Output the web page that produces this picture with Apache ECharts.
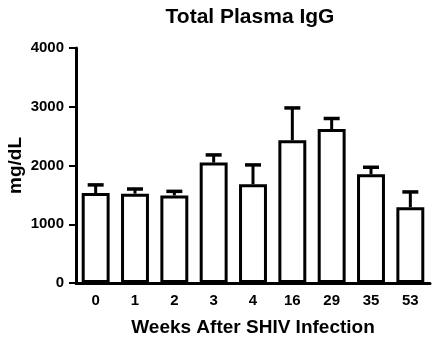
<!DOCTYPE html>
<html>
<head>
<meta charset="utf-8">
<script src="https://cdn.jsdelivr.net/npm/echarts@6/dist/echarts.min.js"></script>
<style>
  html, body { margin: 0; padding: 0; background: #fff; }
  #chart { width: 434px; height: 341px; }
</style>
</head>
<body>
<div id="chart"></div>
<script>
// 数据
var weeks = ['0', '1', '2', '3', '4', '16', '29', '35', '53'];
var iggMean = [1530, 1520, 1490, 2050, 1680, 2430, 2620, 1850, 1290];
var iggErr = [140, 80, 70, 130, 330, 550, 180, 120, 260];

var dom = document.getElementById('chart');
var myChart = echarts.init(dom);

var font = 'Liberation Sans, Arial, Helvetica, sans-serif';

// 误差线
function renderErr(params, api) {
    var idx = api.value(0);
    var top = api.coord([idx, api.value(2)]);
    var base = api.coord([idx, api.value(1)]);
    var half = 8;
    return {
        type: 'group',
        children: [
            { type: 'line', shape: { x1: base[0], y1: base[1], x2: top[0], y2: top[1] }, style: { stroke: '#000', lineWidth: 3 } },
            { type: 'line', shape: { x1: top[0] - half, y1: top[1], x2: top[0] + half, y2: top[1] }, style: { stroke: '#000', lineWidth: 3.5 } }
        ]
    };
}

myChart.setOption({
    animation: false,
    title: {
        text: 'Total Plasma IgG',
        left: 245,
        top: 2,
        textAlign: 'center',
        textStyle: { fontFamily: font, fontSize: 21, fontWeight: 'bold', color: '#000' }
    },
    grid: { left: 76, right: 4, top: 48, bottom: 58, containLabel: false, outerBoundsMode: 'none' },
    xAxis: {
        type: 'category',
        data: weeks,
        name: 'Weeks After SHIV Infection',
        nameLocation: 'middle',
        nameGap: 35,
        nameMoveOverlap: false,
        nameTextStyle: { fontFamily: font, fontSize: 19, fontWeight: 'bold', color: '#000' },
        axisLine: { lineStyle: { color: '#000', width: 3 } },
        axisTick: { alignWithLabel: true, length: 6, lineStyle: { color: '#000', width: 2 } },
        axisLabel: { fontFamily: font, fontSize: 15, fontWeight: 'bold', color: '#000', margin: 10 }
    },
    yAxis: {
        type: 'value',
        min: 0,
        max: 4000,
        interval: 1000,
        name: 'mg/dL',
        nameLocation: 'middle',
        nameGap: 51,
        nameMoveOverlap: false,
        nameTextStyle: { fontFamily: font, fontSize: 19, fontWeight: 'bold', color: '#000' },
        axisLine: { show: true, lineStyle: { color: '#000', width: 3 } },
        axisTick: { show: true, length: 7, lineStyle: { color: '#000', width: 2 } },
        axisLabel: {
            fontFamily: font, fontSize: 15, fontWeight: 'bold', color: '#000', margin: 12,
            formatter: function (v) { return String(v); }
        },
        splitLine: { show: false }
    },
    series: [
        {
            type: 'bar',
            data: iggMean,
            barCategoryGap: '29%',
            itemStyle: { color: '#fff', borderColor: '#000', borderWidth: 3 }
        },
        {
            type: 'custom',
            renderItem: renderErr,
            encode: { x: 0, y: [1, 2] },
            data: iggMean.map(function (m, i) { return [i, m, m + iggErr[i]]; }),
            z: 3
        }
    ]
});
</script>
</body>
</html>
